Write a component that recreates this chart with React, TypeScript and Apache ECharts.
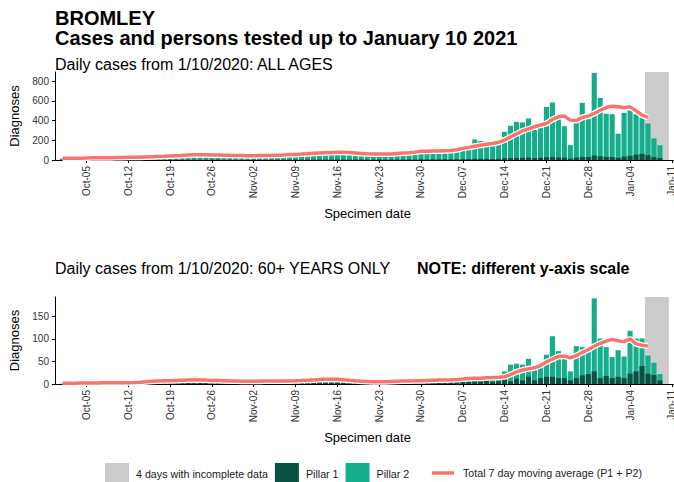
import React, { useEffect, useRef } from 'react';
import * as echarts from 'echarts';

// ---- data (daily, from 2020-10-01) ----
const START_DATE = '2020-10-01';
const xTickLabels = ['Oct-05', 'Oct-12', 'Oct-19', 'Oct-26', 'Nov-02', 'Nov-09', 'Nov-16', 'Nov-23', 'Nov-30', 'Dec-07', 'Dec-14', 'Dec-21', 'Dec-28', 'Jan-04', 'Jan-11'];
const incompleteDates = ['2021-01-07', '2021-01-08', '2021-01-09', '2021-01-10'];
const yTicksAll = [0, 200, 400, 600, 800];
const yTicksOld = [0, 50, 100, 150];

// ALL AGES
const allPillar1 = [
  1, 2, 1, 1, 2, 2, 1,
  2, 2, 1, 2, 3, 2, 2,
  2, 3, 2, 3, 3, 4, 3,
  3, 4, 3, 3, 4, 4, 3,
  3, 3, 2, 3, 4, 3, 3,
  3, 4, 3, 4, 5, 4, 4,
  5, 5, 4, 5, 6, 5, 5,
  4, 5, 4, 4, 5, 4, 5,
  5, 6, 5, 6, 8, 6, 7,
  7, 8, 7, 8, 9, 10, 12,
  12, 13, 11, 12, 18, 20, 22,
  22, 25, 20, 22, 28, 30, 26,
  24, 14, 25, 32, 30, 45, 38,
  32, 30, 22, 35, 42, 55, 62,
  48, 30, 20, 0,
];
const allPillar2 = [
  14, 17, 13, 15, 22, 19, 17,
  20, 24, 19, 19, 27, 29, 25,
  28, 33, 29, 32, 43, 44, 41,
  49, 52, 41, 43, 51, 46, 42,
  41, 39, 36, 37, 43, 45, 40,
  45, 48, 41, 46, 57, 60, 56,
  65, 69, 62, 63, 78, 73, 67,
  62, 57, 48, 54, 55, 54, 57,
  63, 68, 59, 64, 107, 82, 79,
  83, 84, 78, 88, 109, 132, 197,
  180, 177, 147, 153, 269, 328, 366,
  360, 397, 284, 316, 512, 554, 420,
  320, 138, 363, 549, 390, 840, 593,
  438, 435, 245, 445, 463, 410, 368,
  322, 190, 130, 0,
];
const allAverage = [
  17, 18, 18, 19, 21, 22, 22,
  23, 24, 25, 25, 27, 28, 29,
  31, 33, 35, 37, 40, 43, 46,
  50, 53, 54, 53, 51, 50, 49,
  47, 46, 45, 44, 44, 45, 46,
  47, 49, 51, 55, 57, 60, 64,
  68, 71, 74, 77, 80, 79, 75,
  71, 67, 63, 61, 60, 60, 62,
  66, 70, 74, 80, 88, 90, 91,
  92, 94, 96, 104, 118, 128, 140,
  150, 160, 168, 180, 203, 235, 265,
  295, 315, 338, 355, 371, 412, 439,
  446, 405, 400, 432, 446, 473, 506,
  533, 547, 540, 530, 540, 500, 456,
  432,
];

// 60+ YEARS
const oldPillar1 = [
  0, 1, 0, 1, 1, 0, 1,
  1, 1, 0, 1, 1, 1, 2,
  2, 2, 1, 2, 3, 2, 3,
  3, 2, 2, 2, 3, 2, 2,
  2, 2, 1, 2, 2, 2, 2,
  2, 2, 1, 2, 3, 2, 2,
  3, 3, 2, 3, 3, 2, 2,
  2, 1, 1, 2, 2, 1, 2,
  2, 2, 2, 3, 2, 3, 3,
  3, 3, 4, 4, 5, 5, 6,
  6, 7, 5, 6, 10, 6, 12,
  8, 16, 8, 13, 16, 16, 13,
  13, 8, 13, 19, 22, 28, 13,
  18, 13, 16, 13, 23, 28, 40,
  23, 20, 8, 0,
];
const oldPillar2 = [
  1, 1, 1, 1, 2, 2, 2,
  1, 2, 2, 2, 3, 2, 3,
  4, 5, 4, 6, 6, 6, 7,
  6, 14, 5, 4, 6, 6, 4,
  5, 4, 4, 4, 5, 4, 5,
  4, 5, 4, 5, 5, 10, 6,
  7, 8, 7, 8, 7, 7, 5,
  4, 4, 3, 3, 4, 4, 4,
  5, 4, 5, 5, 5, 5, 6,
  6, 5, 6, 7, 7, 7, 10,
  8, 8, 7, 7, 18, 37, 33,
  35, 40, 34, 33, 49, 90, 60,
  55, 20, 71, 63, 58, 162, 88,
  64, 47, 59, 48, 95, 73, 61,
  40, 27, 14, 0,
];
const oldAverage = [
  1.5, 1.6, 1.8, 2, 2, 2.2, 2.4,
  2.5, 2.6, 2.8, 3, 3, 3.4, 4,
  5, 6, 6.6, 7, 7.4, 8, 8.5,
  9, 9.2, 9, 8.6, 8, 7.6, 7.2,
  6.8, 6.5, 6.2, 6, 6, 6.2, 6.4,
  6.6, 6.6, 6.5, 6.7, 7, 7.5, 8.2,
  9, 9.8, 10.3, 10.6, 10.4, 9.6, 8.4,
  7.2, 6.2, 5.5, 5, 5, 5.2, 5.6,
  6, 6.4, 6.8, 7, 7.4, 7.8, 8.2,
  8.6, 9, 9.5, 10.2, 11, 12, 12.6,
  13, 13.6, 14.2, 15, 16, 21, 27,
  31, 34, 36, 41, 49, 55, 61,
  62, 58, 63, 70, 76, 84, 90,
  95, 99, 96, 94, 100, 89, 86,
  84,
];

// ---- helpers ----
const DAY = 86400000;
const FONT = '"Liberation Sans", Arial, Helvetica, sans-serif';
const MONTHS: Record<string, number> = { Jan: 0, Oct: 9, Nov: 10, Dec: 11 };
const dateToTs = (s: string) => Date.parse(s + 'T00:00:00Z');
const T0 = dateToTs(START_DATE);
const dayIndex = (ts: number) => Math.round((ts - T0) / DAY);
const labelToDay = (s: string) => {
  const [m, d] = s.split('-');
  const mi = MONTHS[m];
  return dayIndex(Date.UTC(mi === 0 ? 2021 : 2020, mi, Number(d)));
};
const tickDays = xTickLabels.map(labelToDay);
const labelByDay = new Map<number, string>(tickDays.map((t, i) => [t, xTickLabels[i]]));
const pairs = (arr: number[]) => arr.map((v, i) => [i, v]);
// top of each stacked column (pillar 1 + pillar 2)
const stackTop = (a: number[], b: number[]) => a.map((v, i) => v + b[i]);

const COLORS = {
  grey: '#CCCCCC',
  p1: '#0B5142',
  p2: '#14AE8D',
  avg: '#F6766D',
};

const X_MIN = -1.27;
const X_MAX = X_MIN + 104.63;
const greyStart = dayIndex(dateToTs(incompleteDates[0])) - 0.5;
const greyEnd = dayIndex(dateToTs(incompleteDates[incompleteDates.length - 1])) + 0.5;

const NAME_GREY = '4 days with incomplete data';
const NAME_P1 = 'Pillar 1';
const NAME_P2 = 'Pillar 2';
const NAME_AVG = 'Total 7 day moving average (P1 + P2)';
const BAR_W = '86%';

function xAxis(gridIndex: number) {
  return {
    type: 'value',
    gridIndex,
    min: X_MIN,
    max: X_MAX,
    axisLine: { show: true, onZero: false, lineStyle: { color: '#000', width: 1 } },
    axisTick: { show: true, length: 3, lineStyle: { color: '#000' }, customValues: tickDays },
    axisLabel: {
      customValues: tickDays,
      rotate: 90,
      fontSize: 10,
      color: '#333',
      margin: 6,
      fontFamily: FONT,
      hideOverlap: false,
      showMinLabel: true,
      showMaxLabel: true,
      formatter: (v: number) => labelByDay.get(v) ?? '',
    },
    splitLine: { show: false },
    name: 'Specimen date',
    nameLocation: 'middle',
    nameGap: 47,
    nameTextStyle: { fontSize: 13, color: '#000', fontFamily: FONT },
  };
}

function yAxis(gridIndex: number, max: number, ticks: number[]) {
  return {
    type: 'value',
    gridIndex,
    min: 0,
    max,
    interval: ticks[1] - ticks[0],
    axisLine: { show: true, onZero: false, lineStyle: { color: '#000', width: 1 } },
    axisTick: { show: true, length: 3, lineStyle: { color: '#000' }, customValues: ticks },
    axisLabel: { customValues: ticks, fontSize: 10, color: '#333', margin: 6, fontFamily: FONT },
    splitLine: { show: false },
    name: 'Diagnoses',
    nameLocation: 'middle',
    nameGap: 34,
    nameTextStyle: { fontSize: 13, color: '#000', fontFamily: FONT },
  };
}

function panelSeries(idx: number, p1: number[], p2: number[], avg: number[]) {
  return [
    {
      type: 'bar',
      name: NAME_P2,
      xAxisIndex: idx,
      yAxisIndex: idx,
      barWidth: BAR_W,
      barGap: '-100%',
      itemStyle: { color: COLORS.p2 },
      data: pairs(stackTop(p1, p2)),
      z: 2,
      markArea: {
        silent: true,
        itemStyle: { color: COLORS.grey, opacity: 1 },
        data: [[{ xAxis: greyStart }, { xAxis: greyEnd }]],
      },
    },
    {
      type: 'bar',
      name: NAME_P1,
      xAxisIndex: idx,
      yAxisIndex: idx,
      barWidth: BAR_W,
      barGap: '-100%',
      itemStyle: { color: COLORS.p1 },
      data: pairs(p1),
      z: 2,
    },
    {
      type: 'line',
      name: 'halo' + idx,
      xAxisIndex: idx,
      yAxisIndex: idx,
      symbol: 'none',
      showSymbol: false,
      silent: true,
      lineStyle: { color: '#ffffff', width: 6 },
      data: pairs(avg),
      z: 3,
    },
    {
      type: 'line',
      name: NAME_AVG,
      xAxisIndex: idx,
      yAxisIndex: idx,
      symbol: 'none',
      showSymbol: false,
      itemStyle: { color: COLORS.avg },
      lineStyle: { color: COLORS.avg, width: 3.5 },
      data: pairs(avg),
      z: 4,
    },
  ];
}

const titleText = (text: string, x: number, y: number, font: string) => ({
  type: 'text',
  x,
  y,
  silent: true,
  style: { text, fill: '#000', font, verticalAlign: 'middle', align: 'left' },
});

const option: any = {
  animation: false,
  backgroundColor: '#ffffff',
  textStyle: { fontFamily: FONT },
  graphic: [
    titleText('BROMLEY', 55, 18, `bold 20px ${FONT}`),
    titleText('Cases and persons tested up to January 10 2021', 55, 38, `bold 20px ${FONT}`),
    titleText('Daily cases from 1/10/2020: ALL AGES', 55, 64, `16px ${FONT}`),
    titleText('Daily cases from 1/10/2020: 60+ YEARS ONLY', 55, 268, `16px ${FONT}`),
    titleText('NOTE: different y-axis scale', 417, 268, `bold 16px ${FONT}`),
  ],
  grid: [
    { left: 54.5, top: 72, width: 625.5, height: 88, containLabel: false },
    { left: 54.5, top: 297, width: 625.5, height: 87, containLabel: false },
  ],
  xAxis: [xAxis(0), xAxis(1)],
  yAxis: [yAxis(0, 894, yTicksAll), yAxis(1, 193, yTicksOld)],
  legend: [
    {
      left: 100,
      top: 458,
      orient: 'horizontal',
      icon: 'rect',
      itemWidth: 24,
      itemHeight: 22,
      itemGap: 7,
      selectedMode: false,
      textStyle: { fontSize: 10.7, color: '#1a1a1a', fontFamily: FONT, padding: [0, 0, 0, 2] },
      data: [NAME_GREY, NAME_P1, NAME_P2],
    },
    {
      left: 427,
      top: 462.5,
      orient: 'horizontal',
      icon: 'rect',
      itemWidth: 22,
      itemHeight: 3.5,
      selectedMode: false,
      itemStyle: { color: COLORS.avg },
      textStyle: { fontSize: 10.7, color: '#1a1a1a', fontFamily: FONT, padding: [0, 0, 0, 4] },
      data: [NAME_AVG],
    },
  ],
  series: [
    {
      type: 'bar',
      name: NAME_GREY,
      xAxisIndex: 0,
      yAxisIndex: 0,
      barWidth: BAR_W,
      barGap: '-100%',
      itemStyle: { color: COLORS.grey },
      data: [],
    },
    ...panelSeries(0, allPillar1, allPillar2, allAverage),
    ...panelSeries(1, oldPillar1, oldPillar2, oldAverage),
  ],
};

export default function App() {
  const ref = useRef<HTMLDivElement>(null);
  useEffect(() => {
    if (!ref.current) return;
    const chart = echarts.init(ref.current, null, { renderer: 'svg' });
    chart.setOption(option);
    return () => chart.dispose();
  }, []);
  return (
    <div style={{ position: 'fixed', left: 0, top: 0, width: 674, height: 482, overflow: 'hidden', background: '#fff' }}>
      <div ref={ref} style={{ width: 690, height: 482 }} />
    </div>
  );
}
